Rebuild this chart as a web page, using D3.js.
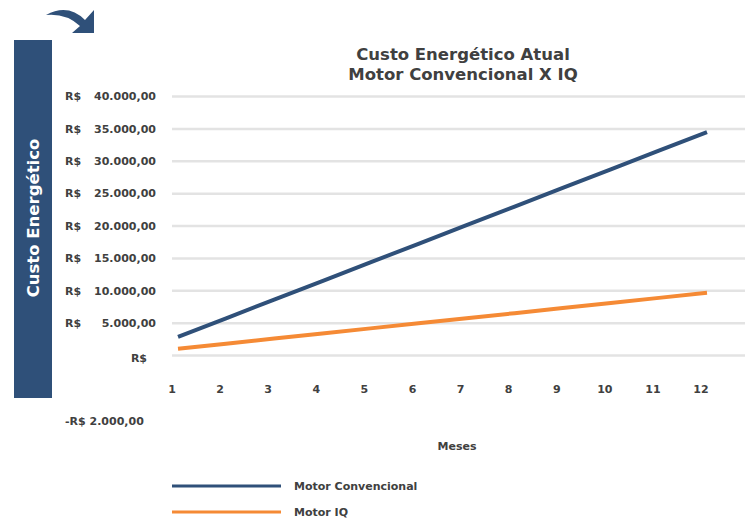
<!DOCTYPE html>
<html>
<head>
<meta charset="utf-8">
<script src="https://cdnjs.cloudflare.com/ajax/libs/d3/7.8.5/d3.min.js"></script>
<style>
  body { margin: 0; background: #fff; }
  text { font-family: "DejaVu Sans", Verdana, sans-serif; font-weight: bold; fill: #404040; }
</style>
</head>
<body>
<div id="container"></div>
<script>
// data
var months = [1, 2, 3, 4, 5, 6, 7, 8, 9, 10, 11, 12];
var convencional = [2880, 5750, 8630, 11500, 14380, 17250, 20130, 23000, 25880, 28750, 31630, 34500];
var motorIQ = [1050, 1830, 2620, 3400, 4190, 4970, 5760, 6540, 7330, 8110, 8900, 9680];
var yTicks = [0, 5000, 10000, 15000, 20000, 25000, 30000, 35000, 40000];
var seriesNames = ["Motor Convencional", "Motor IQ"];

var width = 750, height = 520;
var blue = "#2f5079", orange = "#f58a35";

var br = d3.formatLocale({decimal: ",", thousands: ".", grouping: [3], currency: ["R$ ", ""]});
var fmt = br.format(",.2f");

var svg = d3.select("#container").append("svg")
  .attr("width", width)
  .attr("height", height);

// scales
var x = d3.scaleLinear().domain([1, 12]).range([178, 707]);
var y = d3.scaleLinear().domain([0, 40000]).range([355.5, 96.5]);

// left dark box with the axis title
svg.append("rect")
  .attr("x", 14).attr("y", 40)
  .attr("width", 38).attr("height", 358)
  .style("fill", blue);

svg.append("text")
  .attr("transform", "translate(39,218) rotate(-90)")
  .style("text-anchor", "middle")
  .style("font-size", "16.5px")
  .style("fill", "#fff")
  .text("Custo Energético");

// curved arrow on top
svg.append("path")
  .attr("d", "M46,15 Q68,3 85,20 L94,10 L94,33 L72,33 L80,26 Q66,13 46,15 Z")
  .style("fill", blue);

// title
var title = svg.append("text")
  .attr("x", 463).attr("y", 60)
  .style("text-anchor", "middle")
  .style("font-size", "16.5px");
title.append("tspan").attr("x", 463).attr("dy", 0).text("Custo Energético Atual");
title.append("tspan").attr("x", 463).attr("dy", 20).text("Motor Convencional X IQ");

// gridlines
svg.selectAll(".grid")
  .data(yTicks).enter()
  .append("line")
    .attr("class", "grid")
    .attr("x1", 172).attr("x2", 745)
    .attr("y1", function(d) { return y(d); })
    .attr("y2", function(d) { return y(d); })
    .style("stroke", "#e3e3e3")
    .style("stroke-width", 2.5);

// y tick labels (accounting style: R$ on the left, number on the right)
var yl = svg.selectAll(".ylab")
  .data(yTicks).enter()
  .append("g")
    .attr("class", "ylab")
    .attr("transform", function(d) { return "translate(0," + y(d) + ")"; })
    .style("font-size", "11px");

yl.append("text")
  .attr("x", function(d) { return d == 0 ? 147 : 65; })
  .attr("dy", function(d) { return d == 0 ? "0.55em" : "0.35em"; })
  .style("text-anchor", function(d) { return d == 0 ? "end" : "start"; })
  .text("R$");

yl.filter(function(d) { return d != 0; })
  .append("text")
  .attr("x", 156)
  .attr("dy", "0.35em")
  .style("text-anchor", "end")
  .text(function(d) { return fmt(d); });

svg.append("text")
  .attr("x", 65).attr("y", 425)
  .style("font-size", "11px")
  .text("-R$ " + fmt(2000));

// x tick labels
svg.selectAll(".xlab")
  .data(months).enter()
  .append("text")
    .attr("class", "xlab")
    .attr("x", function(d) { return x(d) - 6; })
    .attr("y", 393)
    .style("text-anchor", "middle")
    .style("font-size", "11px")
    .text(function(d) { return d; });

svg.append("text")
  .attr("x", 457).attr("y", 450)
  .style("text-anchor", "middle")
  .style("font-size", "11px")
  .text("Meses");

// lines
var line = d3.line()
  .x(function(d, i) { return x(months[i]); })
  .y(function(d) { return y(d); });

var series = [convencional, motorIQ];
var colors = [blue, orange];

svg.selectAll(".serie")
  .data(series).enter()
  .append("path")
    .attr("class", "serie")
    .attr("d", line)
    .style("fill", "none")
    .style("stroke", function(d, i) { return colors[i]; })
    .style("stroke-width", 4);

// legend
var legend = svg.selectAll(".legend")
  .data(seriesNames).enter()
  .append("g")
    .attr("class", "legend")
    .attr("transform", function(d, i) { return "translate(0," + (486 + i * 26) + ")"; });

legend.append("line")
  .attr("x1", 172).attr("x2", 281)
  .style("stroke", function(d, i) { return colors[i]; })
  .style("stroke-width", 3);

legend.append("text")
  .attr("x", 294)
  .attr("dy", "0.35em")
  .style("font-size", "11px")
  .text(function(d) { return d; });
</script>
</body>
</html>
